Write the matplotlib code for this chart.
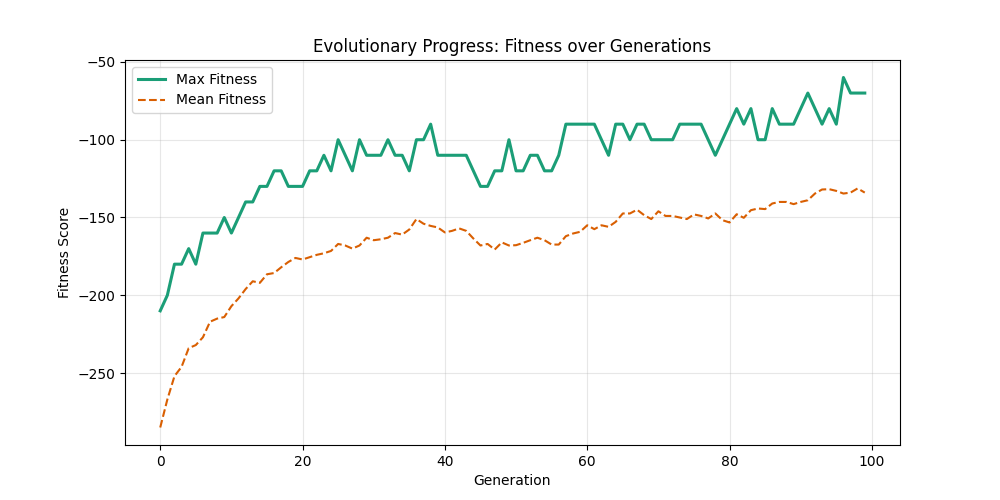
import numpy as np
import matplotlib.pyplot as plt

# Fitness per generation
generations = np.arange(100)

max_fitness = [
    -210, -200, -180, -180, -170, -180, -160, -160, -160, -150,
    -160, -150, -140, -140, -130, -130, -120, -120, -130, -130,
    -130, -120, -120, -110, -120, -100, -110, -120, -100, -110,
    -110, -110, -100, -110, -110, -120, -100, -100, -90, -110,
    -110, -110, -110, -110, -120, -130, -130, -120, -120, -100,
    -120, -120, -110, -110, -120, -120, -110, -90, -90, -90,
    -90, -90, -100, -110, -90, -90, -100, -90, -90, -100,
    -100, -100, -100, -90, -90, -90, -90, -100, -110, -100,
    -90, -80, -90, -80, -100, -100, -80, -90, -90, -90,
    -80, -70, -80, -90, -80, -90, -60, -70, -70, -70,
]

mean_fitness = [
    -285, -267, -252, -246, -234, -232, -227, -217, -215, -214,
    -207, -202, -196, -191, -192, -186.5, -185.7, -182, -178.6, -176,
    -177, -175.5, -174, -173, -171.5, -167, -168, -170, -168, -163,
    -164.6, -164, -163, -160, -161, -157.7, -151, -154, -155.4, -156.4,
    -159.6, -158.6, -157, -158.6, -163.5, -168, -167, -170.6, -166, -168,
    -167.8, -166.3, -164.6, -163, -164.6, -167.4, -167.4, -162, -160.3, -159.2,
    -155, -157.5, -155, -156, -152.8, -147.4, -147.4, -145, -148.5, -151,
    -146, -149, -149, -150, -151, -148, -149, -150.6, -147.4, -151.7,
    -153.2, -147.9, -150.2, -145.3, -144.2, -144.6, -141, -140, -140, -141.4,
    -140, -138.9, -134.6, -132, -131.8, -132.9, -134.6, -134, -131.3, -134,
]

plt.figure(figsize=(10, 5), dpi=100)
plt.plot(generations, max_fitness, color='#1b9e77', linewidth=2.2, label='Max Fitness')
plt.plot(generations, mean_fitness, color='#d95f02', linewidth=1.5, linestyle='--', label='Mean Fitness')
plt.title('Evolutionary Progress: Fitness over Generations')
plt.xlabel('Generation')
plt.ylabel('Fitness Score')
plt.grid(True, alpha=0.3)
plt.legend(loc='upper left')
plt.savefig('out.png', dpi=100)
